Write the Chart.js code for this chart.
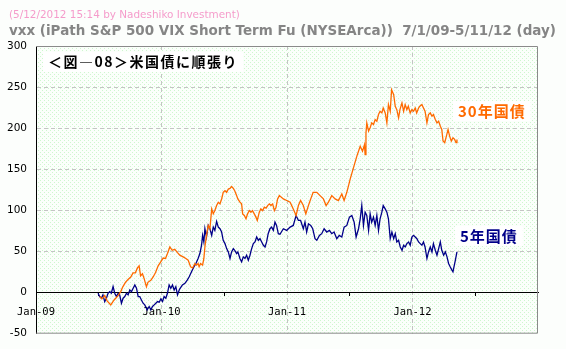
<!DOCTYPE html>
<html>
<head>
<meta charset="utf-8">
<title>vxx</title>
<script src="https://cdn.jsdelivr.net/npm/chart.js@4.4.1/dist/chart.umd.min.js"></script>
<style>
    html, body { margin: 0; padding: 0; background: #fcfefc; }
    #wrap { position: relative; width: 566px; height: 349px; }
</style>
</head>
<body>
<div id="wrap"><canvas id="vxxChart" width="566" height="349"></canvas></div>
<script>
// x values are months counted from Jan 2009
const xTickLabels = ['Jan-09', 'Jan-10', 'Jan-11', 'Jan-12'];
const yTicks = [-50, 0, 50, 100, 150, 200, 250, 300];

// 30-year treasury strategy
const bond30Months = [
    6.1, 6.3, 6.57, 6.8, 7.15, 7.47, 7.85, 8.1, 8.3, 8.55, 8.8, 9.06, 9.28, 9.5, 9.7, 9.86,
    10.0, 10.18, 10.34, 10.56, 10.7, 10.98, 11.2, 11.43, 11.68, 11.93, 12.16, 12.38, 12.57, 12.8,
    13.02, 13.27, 13.53, 13.75, 14.07, 14.33, 14.55, 14.78, 14.97, 15.19, 15.35, 15.5, 15.6, 15.74,
    15.93, 16.05, 16.15, 16.3, 16.47, 16.63, 16.8, 16.95, 17.1, 17.27, 17.43, 17.59, 17.75, 17.9,
    18.07, 18.23, 18.39, 18.55, 18.7, 18.87, 19.0, 19.18, 19.3, 19.5, 19.66, 19.76, 19.92, 20.08,
    20.23, 20.4, 20.55, 20.7, 20.87, 21.03, 21.16, 21.35, 21.5, 21.67, 21.83, 22.0, 22.15, 22.31,
    22.47, 22.63, 22.79, 22.95, 23.1, 23.27, 23.65, 23.97, 24.3, 24.6, 24.87, 25.09, 25.3, 25.56,
    25.8, 26.05, 26.27, 26.5, 26.85, 27.16, 27.48, 27.74, 27.96, 28.28, 28.6, 28.92, 29.24, 29.46,
    29.72, 30.04, 30.36, 30.68, 31.0, 31.22, 31.41, 31.47, 31.55, 31.63, 31.8, 31.95, 32.1, 32.27,
    32.43, 32.59, 32.75, 32.9, 33.07, 33.2, 33.39, 33.55, 33.7, 33.87, 34.0, 34.2, 34.35, 34.5,
    34.67, 34.8, 34.99, 35.15, 35.3, 35.46, 35.6, 35.78, 35.94, 36.1, 36.26, 36.4, 36.58, 36.7,
    36.9, 37.05, 37.2, 37.38, 37.53, 37.7, 37.86, 38.0, 38.18, 38.34, 38.5, 38.66, 38.8, 38.92,
    39.08, 39.24, 39.4, 39.55, 39.71, 39.87, 40.03, 40.16, 40.25
];
const bond30Values = [
    -4.8, -7.6, -3.6, -10, -15, -9, -3.6, 1.2, 7, 12.5, 16, 19, 24, 24, 30, 32.6,
    20.5, 23, 17, 7, 12.5, 15, 19, 24.5, 32.6, 37.4, 42, 41.5, 47.5, 55.5,
    51.5, 52.7, 48.7, 45.5, 43.5, 41.5, 39.5, 31.4, 30, 35.4, 33.4, 35.4, 31.4, 35.4,
    33.4, 41.5, 55.5, 69.6, 81.7, 77.7, 101.8, 95.8, 99.8, 105.9, 109.9, 107.9, 113.9, 122,
    124, 122, 126, 126.8, 129.2, 126.8, 124, 118, 114, 110, 108, 95.8, 93.8, 89.8,
    95.8, 99.8, 97.8, 99.8, 95.8, 91.8, 87.8, 97.8, 101.8, 99.8, 103.9, 102.7, 105.9, 107.9,
    105.9, 107.9, 99.8, 103.9, 113.9, 118, 114, 112, 110, 101.8, 93.8, 105.9, 112, 105.9,
    95.8, 105.9, 114, 122, 122, 118, 114, 105.9, 110, 118, 114, 112, 120, 112,
    122, 138, 152, 166, 178, 172, 180, 168, 194, 206.5, 196.5, 200.5, 206.5, 204.5,
    210.5, 208.5, 216.6, 220.6, 218.6, 224.6, 218.6, 206.5, 228.7, 220.6, 246.8, 240.7, 226.7, 222.6,
    212.6, 222.6, 230.7, 220.6, 228.7, 222.6, 226.7, 218.6, 222.6, 220.6, 224.6, 218.6, 224.6, 226.7,
    228.7, 224.6, 220.6, 206.5, 216.6, 218.6, 214.6, 216.6, 210.5, 206.5, 208.5, 202.5, 198.5, 184.4,
    182.4, 190.4, 198.5, 190.4, 184.4, 188.4, 186.4, 182.4, 186.4
];

// 5-year treasury strategy
const bond5Months = [
    5.93, 6.09, 6.25, 6.4, 6.57, 6.73, 6.89, 7.05, 7.2, 7.37, 7.53, 7.69, 7.85, 8.0, 8.17, 8.33,
    8.49, 8.65, 8.81, 8.97, 9.13, 9.29, 9.45, 9.61, 9.77, 9.92, 10.08, 10.24, 10.4, 10.63, 10.82,
    10.98, 11.14, 11.3, 11.46, 11.62, 11.78, 11.94, 12.1, 12.25, 12.41, 12.57, 12.73, 12.89, 13.05,
    13.21, 13.37, 13.53, 13.72, 14.0, 14.24, 14.46, 14.65, 14.87, 15.1, 15.29, 15.5, 15.67, 15.83,
    15.93, 16.05, 16.15, 16.3, 16.47, 16.63, 16.8, 16.95, 17.1, 17.27, 17.43, 17.59, 17.75, 17.9,
    18.07, 18.23, 18.39, 18.55, 18.7, 18.87, 19.0, 19.18, 19.3, 19.5, 19.66, 19.82, 19.98, 20.14,
    20.3, 20.46, 20.62, 20.78, 20.94, 21.1, 21.26, 21.42, 21.58, 21.74, 21.9, 22.05, 22.2, 22.37,
    22.53, 22.69, 22.85, 23.0, 23.17, 23.33, 23.65, 23.97, 24.3, 24.6, 24.87, 25.09, 25.3, 25.56,
    25.72, 25.88, 26.05, 26.27, 26.46, 26.68, 26.85, 27.1, 27.32, 27.55, 27.8, 28.05, 28.28, 28.5,
    28.76, 29.0, 29.24, 29.46, 29.72, 29.97, 30.2, 30.42, 30.61, 30.84, 31.0, 31.15, 31.31, 31.47,
    31.63, 31.8, 31.95, 32.1, 32.27, 32.43, 32.59, 32.75, 32.9, 33.07, 33.2, 33.39, 33.55, 33.7,
    33.87, 34.03, 34.2, 34.35, 34.5, 34.67, 34.83, 35.0, 35.15, 35.3, 35.46, 35.63, 35.78, 35.94,
    36.1, 36.26, 36.42, 36.58, 36.74, 36.9, 37.05, 37.2, 37.38, 37.53, 37.7, 37.86, 38.0, 38.18,
    38.34, 38.5, 38.66, 38.8, 38.98, 39.14, 39.3, 39.45, 39.6, 39.77, 39.87, 40.0, 40.1, 40.25
];
const bond5Values = [
    -0.8, -4.8, -6.8, -2.8, -10.9, -6.8, -0.8, 1.2, -0.8, 7.2, -0.8, -4.8, -0.8, -2.8, -12.9, -6.8,
    -4.8, -0.8, -2.8, 3.2, 1.2, 5.2, 9.3, 5.2, -4.8, -4.8, -8.9, -12.9, -14.9, -20.9, -16.9,
    -20.9, -16.9, -14.9, -12.9, -10.9, -11.7, -7.6, -10.9, -4.8, -6.8, -0.8, 9.3, 5.2, 9.3,
    3.2, 7.2, -2.8, 4, 9.3, 11.3, 15.3, 19.3, 25.4, 31.4, 35.4, 41.5, 47.5, 57.6,
    69.6, 61.6, 77.7, 67.6, 81.7, 77.7, 69.6, 79.7, 75.7, 86.6, 79.7, 77.7, 73.7, 63.6,
    59.6, 53.5, 49.5, 41.5, 49.5, 53.5, 51.5, 47.5, 49.5, 41.5, 37.4, 43.5, 41.5, 45.5,
    39.5, 45.5, 53.5, 59.6, 61.6, 67.6, 63.6, 65.6, 61.6, 57.6, 55.5, 61.6, 71.7, 77.7,
    79.7, 75.7, 85.7, 81.7, 71.7, 71, 77.7, 75.7, 79.7, 81.7, 93.8, 87.8, 87.8, 77.7,
    85.7, 73.7, 83.7, 81.7, 77.7, 65.6, 63.6, 69.6, 71.7, 77.7, 73.7, 75.7, 71.7, 73.7,
    65.6, 69.6, 67.6, 79.7, 81.7, 91.8, 93.8, 85.7, 67.6, 77.7, 89.8, 105.9, 81.7, 97.8,
    93.8, 75.7, 95.8, 85.7, 91.8, 81.7, 93.8, 75.7, 89.8, 97.8, 105.9, 101.8, 97.8, 89.8,
    65.6, 73.7, 65.6, 71.7, 61.6, 63.6, 55.5, 51.5, 57.6, 55.5, 59.6, 61.6, 57.6, 67.6,
    69.6, 67.6, 65.6, 61.6, 59.6, 57.6, 61.6, 55.5, 41.5, 49.5, 55.5, 49.5, 59.6, 51.5,
    45.5, 53.5, 61.6, 51.5, 45.5, 49.5, 43.5, 35.4, 31.4, 27.4, 25.4, 33.4, 39.5, 49.5
];

const GRID = '#c4c4c4';
const CLEAR = 'rgba(0,0,0,0)';

function toPoints(months, values) {
    return months.map((m, i) => ({ x: m, y: values[i] }));
}

// small dotted tile used to fill the plot area
function dotPattern(ctx) {
    const tile = document.createElement('canvas');
    tile.width = 4;
    tile.height = 4;
    const t = tile.getContext('2d');
    t.fillStyle = '#fbfffb';
    t.fillRect(0, 0, 4, 4);
    t.fillStyle = '#cff6cf';
    t.fillRect(0, 0, 1, 1);
    t.fillRect(2, 2, 1, 1);
    return ctx.createPattern(tile, 'repeat');
}

// shrink/grow a font so the text spans the given width
function fitFont(ctx, text, weight, family, width) {
    ctx.font = weight + ' 10px ' + family;
    const size = 10 * width / ctx.measureText(text).width;
    ctx.font = weight + ' ' + size.toFixed(2) + 'px ' + family;
}

function boxedLabel(ctx, text, x, y, color, font, spacing) {
    ctx.font = font;
    ctx.letterSpacing = spacing || '0px';
    const w = ctx.measureText(text).width;
    ctx.fillStyle = '#ffffff';
    ctx.fillRect(x - 5, y - 10, w + 10, 20);
    ctx.fillStyle = color;
    ctx.textAlign = 'left';
    ctx.textBaseline = 'middle';
    ctx.fillText(text, x, y);
    ctx.letterSpacing = '0px';
}

const decorPlugin = {
    id: 'decor',
    beforeDraw(chart) {
        const { ctx, chartArea: a } = chart;
        ctx.save();
        ctx.fillStyle = '#fcfefc';
        ctx.fillRect(0, 0, chart.width, chart.height);
        ctx.fillStyle = dotPattern(ctx);
        ctx.fillRect(a.left, a.top, a.right - a.left, a.bottom - a.top);

        // heading lines
        ctx.textAlign = 'left';
        ctx.textBaseline = 'middle';
        const stamp = '(5/12/2012 15:14 by Nadeshiko Investment)';
        fitFont(ctx, stamp, 'normal', '"DejaVu Sans"', 231);
        ctx.fillStyle = '#f59ccb';
        ctx.fillText(stamp, 9, 15);
        const head = 'vxx (iPath S&P 500 VIX Short Term Fu (NYSEArca))  7/1/09-5/11/12 (day)';
        fitFont(ctx, head, 'bold', '"DejaVu Sans"', 547);
        ctx.fillStyle = '#858585';
        ctx.fillText(head, 9, 31);
        ctx.restore();
    },
    afterDatasetsDraw(chart) {
        const { ctx, chartArea: a } = chart;
        ctx.save();
        const jp = '"Noto Sans CJK JP", sans-serif';
        boxedLabel(ctx, '＜図―08＞米国債に順張り', a.left + 12, a.top + 16, '#000000', 'bold 14px ' + jp, '1.5px');
        boxedLabel(ctx, '30年国債', a.left + 422, a.top + 65, '#ff6a00', 'bold 15px ' + jp, '1px');
        boxedLabel(ctx, '5年国債', a.left + 424, a.top + 190, '#000088', 'bold 15px ' + jp, '1px');

        // plot frame: grey on three sides, the y axis already draws the left edge
        ctx.strokeStyle = '#8a8a8a';
        ctx.lineWidth = 1;
        ctx.beginPath();
        ctx.moveTo(a.left, a.top + 0.5);
        ctx.lineTo(a.right - 0.5, a.top + 0.5);
        ctx.lineTo(a.right - 0.5, a.bottom - 0.5);
        ctx.lineTo(a.left, a.bottom - 0.5);
        ctx.stroke();
        ctx.restore();
    }
};

const ctx = document.getElementById('vxxChart').getContext('2d');
new Chart(ctx, {
    type: 'line',
    data: {
        datasets: [
            {
                label: '30年国債',
                data: toPoints(bond30Months, bond30Values),
                borderColor: '#ff6a00',
                borderWidth: 1.3,
                pointRadius: 0,
                tension: 0,
                fill: false
            },
            {
                label: '5年国債',
                data: toPoints(bond5Months, bond5Values),
                borderColor: '#000088',
                borderWidth: 1.3,
                pointRadius: 0,
                tension: 0,
                fill: false
            }
        ]
    },
    options: {
        responsive: false,
        animation: false,
        devicePixelRatio: 1,
        layout: { padding: { left: 0, top: 46, right: 28, bottom: 13 } },
        plugins: { legend: { display: false }, tooltip: { enabled: false } },
        scales: {
            x: {
                type: 'linear',
                position: { y: 0 },
                min: 0,
                max: 48,
                border: { color: '#000000', width: 1, dash: [4, 3] },
                grid: {
                    color: c => (c.tick && c.tick.value % 12 === 0 && c.tick.value > 0 && c.tick.value < 48) ? GRID : CLEAR,
                    tickColor: c => (c.tick && c.tick.value % 12 === 0) ? CLEAR : '#000000',
                    tickLength: 3,
                    lineWidth: 1
                },
                ticks: {
                    stepSize: 6,
                    autoSkip: false,
                    maxRotation: 0,
                    padding: 10,
                    color: '#000000',
                    font: { family: '"DejaVu Sans Mono"', size: 10.5 },
                    callback: v => (v % 12 === 0 ? (xTickLabels[v / 12] || '') : '')
                }
            },
            y: {
                min: -50,
                max: 300,
                afterFit: scale => { scale.width = 36; },
                afterBuildTicks: scale => { scale.ticks = yTicks.map(v => ({ value: v })); },
                border: { color: '#000000', width: 1, dash: [4, 3] },
                grid: {
                    color: c => (c.tick && c.tick.value > 0 && c.tick.value < 300) ? GRID : CLEAR,
                    drawTicks: false
                },
                ticks: {
                    padding: 9,
                    color: '#000000',
                    font: { family: '"DejaVu Sans"', size: 10.5 }
                }
            }
        }
    },
    plugins: [decorPlugin]
});
</script>
</body>
</html>
